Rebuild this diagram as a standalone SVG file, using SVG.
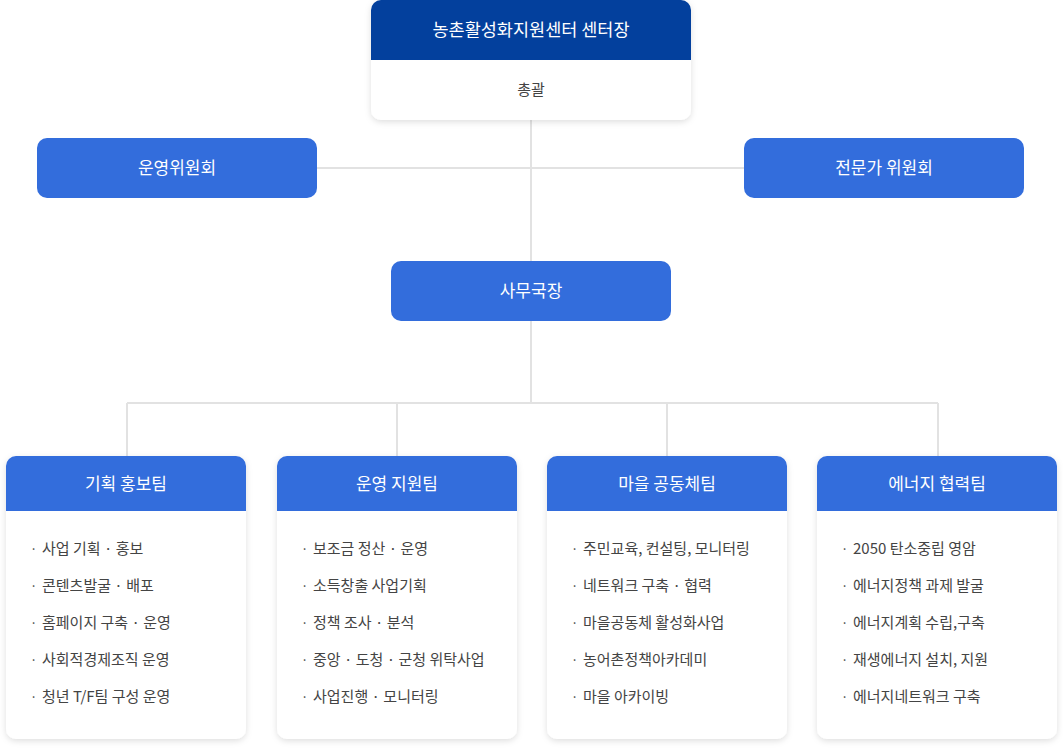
<svg xmlns="http://www.w3.org/2000/svg" width="1063" height="748" viewBox="0 0 1063 748">
<defs>
<filter id="sh" x="-10%" y="-10%" width="120%" height="125%">
<feDropShadow dx="0" dy="2" stdDeviation="3" flood-color="#000" flood-opacity="0.13"/>
</filter>
<clipPath id="ct"><rect x="371" y="0" width="320" height="120" rx="10"/></clipPath>
</defs>
<style>
text{font-family:"Noto Sans CJK KR","Noto Sans",sans-serif}
.blue{fill:#336ddc}
.wt{fill:#fff;font-size:17px;text-anchor:middle}
.it{fill:#444;font-size:15px}
.bl{fill:#444;font-size:13px}
.ln{stroke:#e2e2e2;stroke-width:2;fill:none}
</style>
<g id="connectors">
<path class="ln" d="M531 120V403M317 168H744M127 403H938M127 403V456M397 403V456M667 403V456M938 403V456"/>
</g>
<g id="director">
<g filter="url(#sh)"><rect x="371" y="0" width="320" height="120" rx="10" fill="#fff"/></g>
<g clip-path="url(#ct)"><rect x="371" y="0" width="320" height="60" fill="#03409d"/></g>
<text class="wt" x="531" y="36" style="font-size:17.5px">농촌활성화지원센터 센터장</text>
<text class="it" x="531" y="95" text-anchor="middle">총괄</text>
</g>
<g id="steering">
<rect class="blue" x="37" y="138" width="280" height="60" rx="10"/>
<text class="wt" x="177" y="174">운영위원회</text>
</g>
<g id="expert">
<rect class="blue" x="744" y="138" width="280" height="60" rx="10"/>
<text class="wt" x="884" y="174">전문가 위원회</text>
</g>
<g id="secretary">
<rect class="blue" x="391" y="261" width="280" height="60" rx="10"/>
<text class="wt" x="531" y="297">사무국장</text>
</g>
<g id="team1">
<g filter="url(#sh)"><rect x="6" y="456" width="240" height="283" rx="10" fill="#fff"/></g>
<path class="blue" d="M16 456H236A10 10 0 0 1 246 466V511H6V466A10 10 0 0 1 16 456Z"/>
<text class="wt" x="126" y="490">기획 홍보팀</text>
<g class="bl"><text x="30" y="554">·</text><text x="30" y="591">·</text><text x="30" y="628">·</text><text x="30" y="665">·</text><text x="30" y="702">·</text></g>
<text class="it" x="42" y="554">사업 기획 · 홍보</text>
<text class="it" x="42" y="591">콘텐츠발굴 · 배포</text>
<text class="it" x="42" y="628">홈페이지 구축 · 운영</text>
<text class="it" x="42" y="665">사회적경제조직 운영</text>
<text class="it" x="42" y="702">청년 T/F팀 구성 운영</text>
</g>
<g id="team2">
<g filter="url(#sh)"><rect x="277" y="456" width="240" height="283" rx="10" fill="#fff"/></g>
<path class="blue" d="M287 456H507A10 10 0 0 1 517 466V511H277V466A10 10 0 0 1 287 456Z"/>
<text class="wt" x="397" y="490">운영 지원팀</text>
<g class="bl"><text x="301" y="554">·</text><text x="301" y="591">·</text><text x="301" y="628">·</text><text x="301" y="665">·</text><text x="301" y="702">·</text></g>
<text class="it" x="313" y="554">보조금 정산 · 운영</text>
<text class="it" x="313" y="591">소득창출 사업기획</text>
<text class="it" x="313" y="628">정책 조사 · 분석</text>
<text class="it" x="313" y="665">중앙 · 도청 · 군청 위탁사업</text>
<text class="it" x="313" y="702">사업진행 · 모니터링</text>
</g>
<g id="team3">
<g filter="url(#sh)"><rect x="547" y="456" width="240" height="283" rx="10" fill="#fff"/></g>
<path class="blue" d="M557 456H777A10 10 0 0 1 787 466V511H547V466A10 10 0 0 1 557 456Z"/>
<text class="wt" x="667" y="490">마을 공동체팀</text>
<g class="bl"><text x="571" y="554">·</text><text x="571" y="591">·</text><text x="571" y="628">·</text><text x="571" y="665">·</text><text x="571" y="702">·</text></g>
<text class="it" x="583" y="554">주민교육, 컨설팅, 모니터링</text>
<text class="it" x="583" y="591">네트워크 구축 · 협력</text>
<text class="it" x="583" y="628">마을공동체 활성화사업</text>
<text class="it" x="583" y="665">농어촌정책아카데미</text>
<text class="it" x="583" y="702">마을 아카이빙</text>
</g>
<g id="team4">
<g filter="url(#sh)"><rect x="817" y="456" width="240" height="283" rx="10" fill="#fff"/></g>
<path class="blue" d="M827 456H1047A10 10 0 0 1 1057 466V511H817V466A10 10 0 0 1 827 456Z"/>
<text class="wt" x="937" y="490">에너지 협력팀</text>
<g class="bl"><text x="841" y="554">·</text><text x="841" y="591">·</text><text x="841" y="628">·</text><text x="841" y="665">·</text><text x="841" y="702">·</text></g>
<text class="it" x="853" y="554">2050 탄소중립 영암</text>
<text class="it" x="853" y="591">에너지정책 과제 발굴</text>
<text class="it" x="853" y="628">에너지계획 수립,구축</text>
<text class="it" x="853" y="665">재생에너지 설치, 지원</text>
<text class="it" x="853" y="702">에너지네트워크 구축</text>
</g>
</svg>
